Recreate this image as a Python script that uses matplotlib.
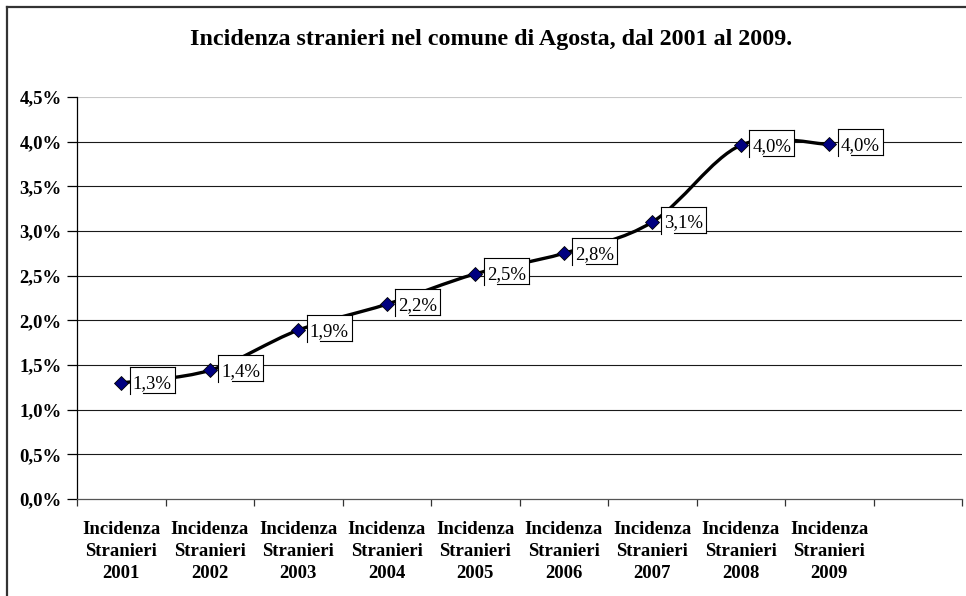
import matplotlib
matplotlib.use('Agg')
import matplotlib.pyplot as plt
import matplotlib as mpl
from matplotlib.path import Path
from matplotlib.patches import PathPatch, Rectangle
from matplotlib.lines import Line2D
from matplotlib.transforms import IdentityTransform

params = {
    'font.family': ['Liberation Serif', 'DejaVu Serif'],
    'font.size': 12,
    'axes.linewidth': 0.9,
    'figure.dpi': 100,
    'savefig.dpi': 100,
}
mpl.rcParams.update(params)

# data
years = ['2001', '2002', '2003', '2004', '2005', '2006', '2007', '2008', '2009']
incidenza = [1.30, 1.44, 1.89, 2.18, 2.52, 2.75, 3.10, 3.96, 3.97]
value_labels = ['1,3%', '1,4%', '1,9%', '2,2%', '2,5%', '2,8%', '3,1%', '4,0%', '4,0%']
y_ticks = [0.0, 0.5, 1.0, 1.5, 2.0, 2.5, 3.0, 3.5, 4.0, 4.5]
n_slots = 10  # the category axis has one empty slot at the end

title = 'Incidenza stranieri nel comune di Agosta, dal 2001 al 2009.'

W, H = 966, 596
fig = plt.figure(figsize=(W / 100, H / 100))
ax = fig.add_axes([77 / W, 1 - 499 / H, (962 - 77) / W, (499 - 97) / H])

xs = [i + 0.5 for i in range(len(years))]

# gridlines
for t in y_ticks[1:]:
    col = '#c8c8c8' if t == y_ticks[-1] else '#1a1a1a'
    ax.axhline(t, color=col, lw=0.8, zorder=1)


def smooth_path(px, py):
    # excel-like smoothed line: cubic bezier through the points
    verts = [(px[0], py[0])]
    codes = [Path.MOVETO]
    n = len(px)
    for i in range(n - 1):
        x0, y0 = px[max(i - 1, 0)], py[max(i - 1, 0)]
        x1, y1 = px[i], py[i]
        x2, y2 = px[i + 1], py[i + 1]
        x3, y3 = px[min(i + 2, n - 1)], py[min(i + 2, n - 1)]
        c1 = (x1 + (x2 - x0) / 6.0, y1 + (y2 - y0) / 6.0)
        c2 = (x2 - (x3 - x1) / 6.0, y2 - (y3 - y1) / 6.0)
        verts += [c1, c2, (x2, y2)]
        codes += [Path.CURVE4] * 3
    return Path(verts, codes)


ax.add_patch(PathPatch(smooth_path(xs, incidenza), facecolor='none',
                       edgecolor='black', lw=2.4, zorder=3, capstyle='round'))
ax.plot(xs, incidenza, linestyle='none', marker='D', markersize=7,
        markerfacecolor='#000080', markeredgecolor='black', markeredgewidth=0.6,
        zorder=4)

ax.set_xlim(0, n_slots)
ax.set_ylim(0, 4.5)

ax.set_yticks(y_ticks)
ax.set_yticklabels([('%.1f' % t).replace('.', ',') + '%' for t in y_ticks],
                   fontweight='bold', fontsize=13.5)
ax.set_xticks(range(n_slots + 1))
ax.set_xticklabels([])
ax.set_xticks(xs, minor=True)
ax.set_xticklabels(['Incidenza\nStranieri\n' + y for y in years], minor=True,
                   fontweight='bold', fontsize=13.5, linespacing=1.42)
ax.tick_params(axis='y', direction='out', length=7, width=0.9, pad=4, colors='black')
ax.tick_params(axis='x', which='major', direction='out', length=5, width=0.9, color='#333333')
ax.tick_params(axis='x', which='minor', length=0, pad=15.5)

for s in ['top', 'right']:
    ax.spines[s].set_visible(False)
ax.spines['bottom'].set_color('#555555')
ax.spines['left'].set_color('black')

fig.text(491 / W, 1 - 40 / H, title, ha='center', va='center',
         fontsize=17.3, fontweight='bold')

# data labels with the odd partial frame
fig.canvas.draw()
ident = IdentityTransform()
for x, v, lab in zip(xs, incidenza, value_labels):
    px, py = ax.transData.transform((x, v))
    left, right = px + 8.5, px + 53.5
    top, bot = py + 15.5, py - 10.5
    fig.add_artist(Rectangle((left, bot), right - left, top - bot, transform=ident,
                             facecolor='white', edgecolor='none', zorder=5))
    segs = [([left, left], [bot - 1, top]),
            ([left, right], [top, top]),
            ([right, right], [top, bot]),
            ([left + 13.5, right], [bot, bot])]
    for sx, sy in segs:
        fig.add_artist(Line2D(sx, sy, transform=ident, color='black', lw=0.8, zorder=6))
    fig.text(px + 31, py - 1, lab, transform=ident, ha='center', va='center',
             fontsize=13.5, zorder=7)

# outer chart frame (left and top edges visible)
fig.add_artist(Line2D([6.5 / W, 6.5 / W], [0, 1 - 6.5 / H], color='#333333', lw=1.6))
fig.add_artist(Line2D([6.5 / W, 1], [1 - 6.5 / H, 1 - 6.5 / H], color='#333333', lw=1.6))

fig.savefig('out.png')
plt.close()
